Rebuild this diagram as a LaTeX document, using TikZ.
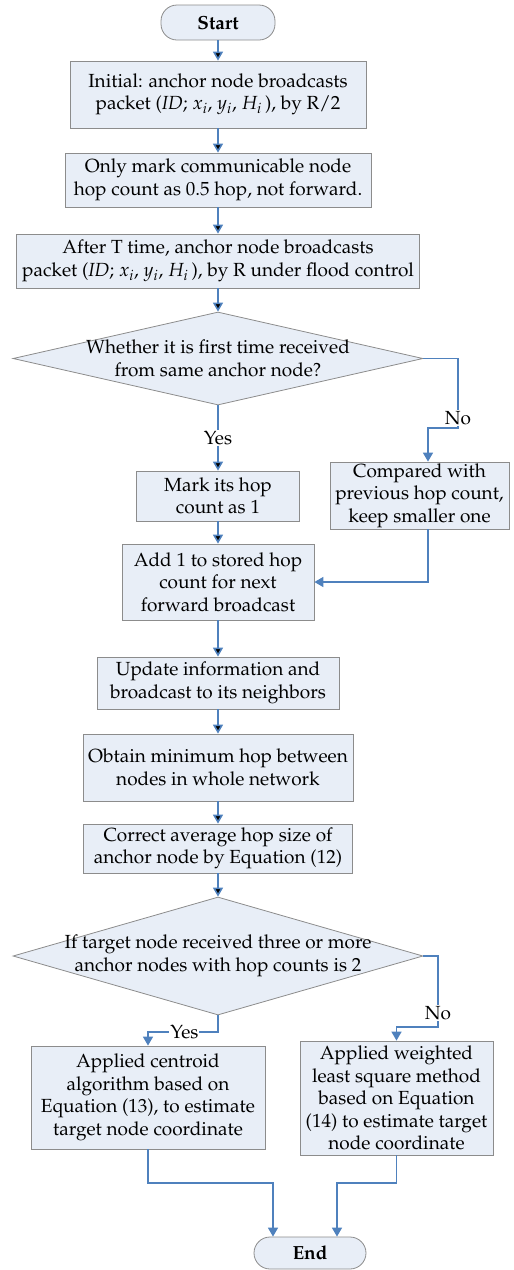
\documentclass[tikz,border=0pt]{standalone}
\usepackage[T1]{fontenc}
\usepackage{mathpazo}
\usetikzlibrary{shapes.geometric, arrows.meta, positioning}
\definecolor{boxfill}{RGB}{232,238,247}
\definecolor{boxline}{RGB}{140,140,140}
\definecolor{flow}{RGB}{79,129,189}
\tikzset{
	proc/.style={draw=boxline, fill=boxfill, align=center, inner sep=0pt, line width=0.8pt},
	term/.style={proc, rounded corners=16pt, font=\fontsize{19}{22.5}\selectfont\bfseries},
	decide/.style={proc, diamond, inner sep=-6pt},
	arr/.style={draw=flow, line width=1.6pt, -{Triangle[length=9pt,width=10pt]}},
	lbl/.style={fill=white, inner sep=1pt}
}
\begin{document}
\begin{tikzpicture}
	[x=1pt, y=-1pt, font=\fontsize{19}{22.5}\selectfont]
	\useasboundingbox (0,0) rectangle (514,1270);
	\node[term, minimum width=114, minimum height=35] (start) at (218,22.5) {Start};
	\node[proc, minimum width=296, minimum height=67] (init) at (218,94.5)
		{Initial: anchor node broadcasts\\packet\ (\textit{ID}; $x_i$, $y_i$, $H_i$\,), by R/2};
	\node[proc, minimum width=306, minimum height=54] (mark05) at (218,180)
		{Only mark communicable node\\hop count\ as 0.5 hop, not forward.};
	\node[proc, minimum width=403, minimum height=54] (flood) at (218,261)
		{After T time, anchor node broadcasts\\packet\ (\textit{ID}; $x_i$, $y_i$, $H_i$\,), by R under flood control};
	\node[decide, shape aspect=4.4, minimum width=410, minimum height=93] (first) at (218,358.5)
		{Whether it is first time received\\from same anchor node?};
	\node[proc, minimum width=163, minimum height=50] (markone) at (218,496)
		{Mark its hop\\count as 1};
	\node[proc, minimum width=179, minimum height=67] (compare) at (419.5,495.5)
		{Compared with\\previous hop count,\\keep smaller one};
	\node[proc, minimum width=192, minimum height=76] (addone) at (218,582)
		{Add 1 to\ stored hop\\count for next\\forward broadcast};
	\node[proc, minimum width=242, minimum height=52] (update) at (218,683)
		{Update information and\\broadcast to its neighbors};
	\node[proc, minimum width=270, minimum height=67] (obtain) at (218,767.5)
		{Obtain minimum hop between\\nodes in whole network};
	\node[proc, minimum width=269, minimum height=49] (correct) at (218,848.5)
		{Correct\ average hop size of\\anchor\ node by Equation (12)};
	\node[decide, shape aspect=3.47, minimum width=410, minimum height=118] (three) at (218,956)
		{If target node received three or more\\anchor nodes with hop counts is 2};
	\node[proc, minimum width=234, minimum height=103] (centroid) at (148,1097.5)
		{Applied centroid\\algorithm based on\\Equation (13), to estimate\\target node coordinate};
	\node[proc, minimum width=193, minimum height=114] (wls) at (396.5,1098)
		{Applied weighted\\least square method\\based on\ Equation\\(14) to estimate target\\node coordinate};
	\node[term, minimum width=112, minimum height=32] (end) at (310,1253) {End};
	\coordinate (noA) at (458,428);
	\coordinate (noB) at (428,428);
	\coordinate (yesC) at (218,1032);
	\coordinate (noC) at (438,1027);
	\coordinate (joinL) at (273,1183);
	\coordinate (joinR) at (337,1183);
	\path[arr]
	(start) edge (init)
	(init) edge (mark05)
	(mark05) edge (flood)
	(flood) edge (first)
	(first) edge node[lbl] {Yes} (markone)
	(markone) edge (addone)
	(addone) edge (update)
	(update) edge (obtain)
	(obtain) edge (correct)
	(correct) edge (three);
	\draw[arr] (first.east) -| node[lbl, pos=0.93] {No} (noA) -- (noB) -- (noB |- compare.north);
	\draw[arr] (noB |- compare.south) |- (addone.east);
	\draw[arr] (three.south) -- (yesC) -| node[lbl, pos=0.24] {Yes} (centroid.north);
	\draw[arr] (three.east) -| node[lbl, pos=0.9] {No} (noC) -| (wls.north);
	\draw[arr] (centroid.south) |- (joinL) -- (joinL |- end.north);
	\draw[arr] (wls.south) |- (joinR) -- (joinR |- end.north);
\end{tikzpicture}
\end{document}
